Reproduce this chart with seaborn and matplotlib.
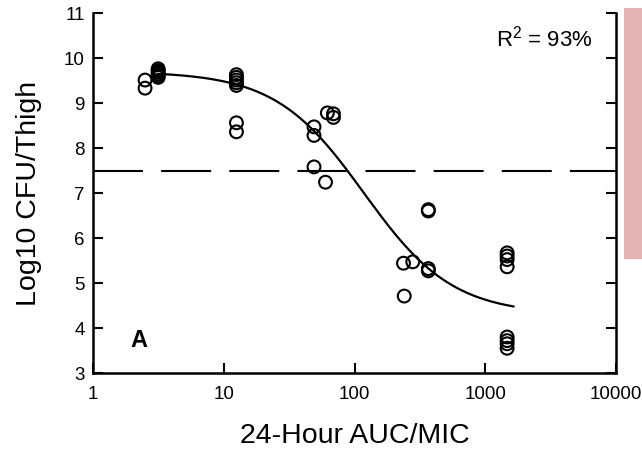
import numpy as np
import pandas as pd
import matplotlib
matplotlib.use("Agg")
import matplotlib.pyplot as plt
import seaborn as sns
from matplotlib.patches import Rectangle
from matplotlib.ticker import NullLocator

# Observed thigh burden versus exposure (24-h AUC/MIC)
auc_mic = [2.5, 2.5,
           3.15, 3.15, 3.15, 3.15, 3.15, 3.15,
           12.5, 12.5, 12.5, 12.5, 12.5, 12.5, 12.5,
           49, 49, 49, 60, 62, 69, 69,
           237, 240, 279, 367, 367, 367, 367,
           1470, 1470, 1470, 1470, 1470, 1470, 1470, 1470]
log_cfu = [9.51, 9.33,
           9.76, 9.72, 9.68, 9.64, 9.60, 9.57,
           9.63, 9.57, 9.51, 9.45, 9.39, 8.56, 8.36,
           8.47, 8.28, 7.58, 7.24, 8.78, 8.76, 8.68,
           5.44, 4.71, 5.47, 6.60, 6.63, 5.27, 5.32,
           5.67, 5.60, 5.52, 5.36, 3.80, 3.72, 3.65, 3.55]

# Sigmoid Emax (Hill) model parameters
E0, EMAX, EC50, HILL = 9.70, 5.40, 118.0, 1.28
fit_lo, fit_hi = 3.1, 1650
stasis_level = 7.5
r_squared = 93
panel = "A"

x_ticks = [1, 10, 100, 1000, 10000]
x_tick_labels = ["1", "10", "100", "1000", "10000"]
y_ticks = [3, 4, 5, 6, 7, 8, 9, 10, 11]

sns.set_theme(style="ticks")
plt.rcParams["font.family"] = ["Liberation Sans", "DejaVu Sans"]
plt.rcParams["mathtext.fontset"] = "custom"
plt.rcParams["mathtext.rm"] = "Liberation Sans"
plt.rcParams["mathtext.it"] = "Liberation Sans"

fig = plt.figure(figsize=(6.42, 4.5), dpi=100)
fig.patch.set_facecolor("white")
ax = fig.add_axes([0.1449, 0.1711, 0.8146, 0.8])
ax.set_facecolor("white")

# side panel strip
fig.patches.append(Rectangle((0.972, 0.4244), 0.04, 0.5578,
                             transform=fig.transFigure,
                             facecolor="#e3b4b5", edgecolor="none", zorder=0))

# fitted curve
xs = np.logspace(np.log10(fit_lo), np.log10(fit_hi), 300)
fit = E0 - EMAX * xs**HILL / (EC50**HILL + xs**HILL)
sns.lineplot(x=xs, y=fit, ax=ax, color="black", linewidth=1.6, sort=False,
             estimator=None, zorder=2)

ax.axhline(stasis_level, color="black", linewidth=1.5, dashes=(24, 8.7), zorder=1)

sns.scatterplot(x=auc_mic, y=log_cfu, ax=ax, marker="o", s=85,
                facecolors="none", edgecolors="black", linewidth=1.5, zorder=3)

ax.set_xscale("log")
ax.set_xlim(1, 10000)
ax.set_ylim(3, 11)
ax.set_xticks(x_ticks)
ax.set_xticklabels(x_tick_labels)
ax.xaxis.set_minor_locator(NullLocator())
ax.set_yticks(y_ticks)

for side in ["left", "right", "bottom"]:
    ax.spines[side].set_linewidth(1.8)
    ax.spines[side].set_color("black")
ax.spines["top"].set_visible(False)

ax.tick_params(axis="y", direction="in", length=7, width=1.5, left=True,
               right=True, labelsize=13.5, pad=6, colors="black")
ax.tick_params(axis="x", direction="in", length=7, width=1.5, bottom=True,
               top=False, labelsize=13.5, pad=9, colors="black")

ax.set_xlabel("24-Hour AUC/MIC", fontsize=20.5, labelpad=15, color="black")
ax.set_ylabel("Log10 CFU/Thigh", fontsize=20.5, labelpad=16, color="black")

ax.text(0.956, 0.93, f"R$^2$ = {r_squared}%", transform=ax.transAxes,
        ha="right", va="center", fontsize=16, color="black")
ax.text(0.088, 0.089, panel, transform=ax.transAxes, ha="center", va="center",
        fontsize=17, fontweight="bold", color="black")

fig.savefig("out.png", dpi=100)
